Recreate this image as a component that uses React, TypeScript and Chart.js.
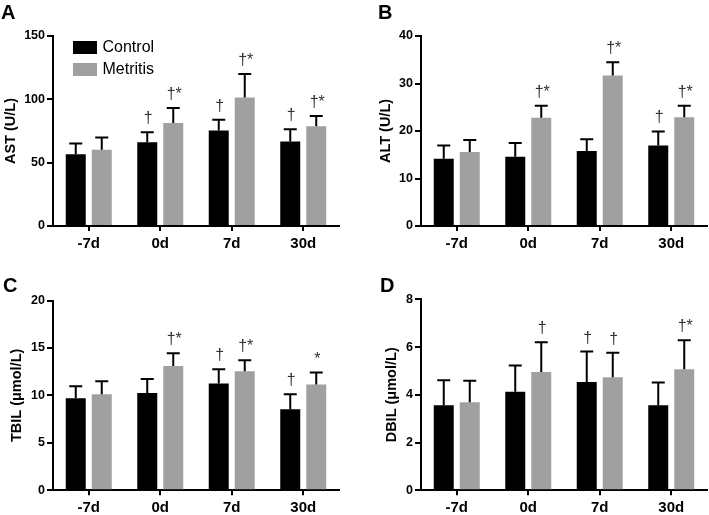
import React, { useEffect, useRef } from 'react';
import { Chart, registerables } from 'chart.js';

Chart.register(...registerables);

// ---------- data ----------
const categories = ['-7d', '0d', '7d', '30d'];
const seriesNames = ['Control', 'Metritis'];
const seriesColors = ['#000000', '#a0a0a0'];

const astControl = [56.7, 66.2, 75.4, 66.7];
const astControlSD = [8.4, 7.9, 8.4, 9.7];
const astMetritis = [60.2, 81.4, 101.4, 78.8];
const astMetritisSD = [9.7, 11.8, 18.6, 8.1];
const astControlMarks = ['', '†', '†', '†'];
const astMetritisMarks = ['', '†*', '†*', '†*'];
const astTicks = [0, 50, 100, 150];

const altControl = [14.15, 14.6, 15.8, 16.95];
const altControlSD = [2.8, 2.9, 2.45, 2.95];
const altMetritis = [15.6, 22.8, 31.7, 22.9];
const altMetritisSD = [2.5, 2.5, 2.8, 2.4];
const altControlMarks = ['', '', '', '†'];
const altMetritisMarks = ['', '†*', '†*', '†*'];
const altTicks = [0, 10, 20, 30, 40];

const tbilControl = [9.7, 10.26, 11.25, 8.54];
const tbilControlSD = [1.27, 1.48, 1.51, 1.58];
const tbilMetritis = [10.12, 13.11, 12.55, 11.14];
const tbilMetritisSD = [1.37, 1.34, 1.16, 1.27];
const tbilControlMarks = ['', '', '†', '†'];
const tbilMetritisMarks = ['', '†*', '†*', '*'];
const tbilTicks = [0, 5, 10, 15, 20];

const dbilControl = [3.56, 4.13, 4.54, 3.56];
const dbilControlSD = [1.05, 1.1, 1.27, 0.96];
const dbilMetritis = [3.69, 4.96, 4.73, 5.07];
const dbilMetritisSD = [0.9, 1.24, 1.03, 1.21];
const dbilControlMarks = ['', '', '†', ''];
const dbilMetritisMarks = ['', '†', '†', '†*'];
const dbilTicks = [0, 2, 4, 6, 8];

// ---------- layout ----------
type Panel = {
  letter: string; title: string; ticks: number[];
  ctrl: number[]; ctrlSD: number[]; ctrlMarks: string[];
  met: number[]; metSD: number[]; metMarks: string[];
  x: number; y: number; w: number; h: number;
  left: number; right: number; top: number; bottom: number;
  titleCenter: number; letterX: number; letterY: number; legend: boolean;
};

const panels: Panel[] = [
  { letter: 'A', title: 'AST (U/L)', ticks: astTicks, ctrl: astControl, ctrlSD: astControlSD, ctrlMarks: astControlMarks,
    met: astMetritis, metSD: astMetritisSD, metMarks: astMetritisMarks,
    x: 0, y: 0, w: 354, h: 257, left: 53, right: 339, top: 36, bottom: 226, titleCenter: 10.5, letterX: 1, letterY: 18.5, legend: true },
  { letter: 'B', title: 'ALT (U/L)', ticks: altTicks, ctrl: altControl, ctrlSD: altControlSD, ctrlMarks: altControlMarks,
    met: altMetritis, metSD: altMetritisSD, metMarks: altMetritisMarks,
    x: 354, y: 0, w: 355, h: 257, left: 67, right: 353, top: 36, bottom: 226, titleCenter: 31.8, letterX: 24, letterY: 18.5, legend: false },
  { letter: 'C', title: 'TBIL (μmol/L)', ticks: tbilTicks, ctrl: tbilControl, ctrlSD: tbilControlSD, ctrlMarks: tbilControlMarks,
    met: tbilMetritis, metSD: tbilMetritisSD, metMarks: tbilMetritisMarks,
    x: 0, y: 257, w: 354, h: 258, left: 53, right: 339, top: 43.5, bottom: 233.3, titleCenter: 17, letterX: 3, letterY: 34.5, legend: false },
  { letter: 'D', title: 'DBIL (μmol/L)', ticks: dbilTicks, ctrl: dbilControl, ctrlSD: dbilControlSD, ctrlMarks: dbilControlMarks,
    met: dbilMetritis, metSD: dbilMetritisSD, metMarks: dbilMetritisMarks,
    x: 354, y: 257, w: 355, h: 258, left: 67, right: 353, top: 42.3, bottom: 233.3, titleCenter: 38, letterX: 26, letterY: 34.5, legend: false },
];

const FONT = 'Liberation Sans';
const TITLE_SIZE = 14.5;

const decorPlugin = {
  id: 'decor',
  afterDatasetsDraw(chart: any, _args: any, opts: any) {
    const ctx = chart.ctx;
    const ys = chart.scales.y;
    chart.data.datasets.forEach((ds: any, di: number) => {
      const meta = chart.getDatasetMeta(di);
      meta.data.forEach((el: any, i: number) => {
        const v = ds.data[i];
        const base = ys.getPixelForValue(v);
        const top = ys.getPixelForValue(v + ds.sd[i]);
        ctx.save();
        ctx.strokeStyle = '#000';
        ctx.lineWidth = 2;
        ctx.beginPath();
        ctx.moveTo(el.x, base);
        ctx.lineTo(el.x, top);
        ctx.moveTo(el.x - 6.5, top);
        ctx.lineTo(el.x + 6.5, top);
        ctx.stroke();
        const m = ds.marks[i];
        if (m) {
          ctx.font = `16px "${FONT}", Arial, sans-serif`;
          ctx.fillStyle = '#333';
          ctx.textAlign = 'center';
          ctx.textBaseline = 'alphabetic';
          ctx.fillText(m, el.x + 1, top - 9);
        }
        ctx.restore();
      });
    });
    // panel letter
    ctx.save();
    ctx.font = `bold 20px "${FONT}"`;
    ctx.fillStyle = '#000';
    ctx.textAlign = 'left';
    ctx.textBaseline = 'alphabetic';
    ctx.fillText(opts.letter, opts.letterX, opts.letterY);
    ctx.restore();
    // legend
    if (opts.legend) {
      const ca = chart.chartArea;
      ctx.save();
      chart.data.datasets.forEach((ds: any, di: number) => {
        const bx = ca.left + 20;
        const by = ca.top + 5 + di * 22;
        ctx.fillStyle = ds.backgroundColor;
        ctx.fillRect(bx, by, 24, 13);
        ctx.fillStyle = '#000';
        ctx.font = `16px "${FONT}", Arial, sans-serif`;
        ctx.textAlign = 'left';
        ctx.textBaseline = 'middle';
        ctx.fillText(ds.label, bx + 29.5, by + 6.5);
      });
      ctx.restore();
    }
  },
};

function PanelChart({ p }: { p: Panel }) {
  const ref = useRef<HTMLCanvasElement | null>(null);
  useEffect(() => {
    if (!ref.current) return;
    const t = p.ticks;
    const chart = new Chart(ref.current, {
      type: 'bar',
      data: {
        labels: categories,
        datasets: [
          { label: seriesNames[0], data: p.ctrl, sd: p.ctrlSD, marks: p.ctrlMarks, backgroundColor: seriesColors[0],
            categoryPercentage: 0.7273, barPercentage: 0.769 } as any,
          { label: seriesNames[1], data: p.met, sd: p.metSD, marks: p.metMarks, backgroundColor: seriesColors[1],
            categoryPercentage: 0.7273, barPercentage: 0.769 } as any,
        ],
      },
      options: {
        responsive: false,
        animation: false,
        events: [],
        layout: { padding: { top: p.top, right: p.w - p.right, left: 0, bottom: 0 } },
        plugins: {
          legend: { display: false },
          tooltip: { enabled: false },
          decor: { letter: p.letter, letterX: p.letterX, letterY: p.letterY, legend: p.legend },
        } as any,
        scales: {
          x: {
            grid: { offset: false, drawOnChartArea: false, drawTicks: true, tickLength: 5, color: '#000', lineWidth: 2 },
            border: { display: true, color: '#000', width: 2 },
            ticks: { color: '#000', font: { family: FONT, weight: 'bold', size: 15 }, padding: 4, maxRotation: 0, autoSkip: false },
            afterFit: (s: any) => { s.height = p.h - p.bottom; },
          },
          y: {
            min: t[0],
            max: t[t.length - 1],
            ticks: { stepSize: t[1] - t[0], color: '#000', font: { family: FONT, weight: 'bold', size: 12.5 }, padding: 2 },
            grid: { drawOnChartArea: false, drawTicks: true, tickLength: 6, color: '#000', lineWidth: 2 },
            border: { display: true, color: '#000', width: 2 },
            title: { display: true, text: p.title, color: '#000', font: { family: FONT, weight: 'bold', size: TITLE_SIZE },
              padding: { top: p.titleCenter - TITLE_SIZE * 0.6, bottom: 0 } },
            afterFit: (s: any) => { s.width = p.left; },
          },
        } as any,
      },
      plugins: [decorPlugin],
    });
    return () => chart.destroy();
  }, [p]);
  return (
    <canvas
      ref={ref}
      width={p.w}
      height={p.h}
      style={{ position: 'absolute', left: p.x, top: p.y, width: p.w, height: p.h }}
    />
  );
}

export default function App() {
  return (
    <div style={{ position: 'fixed', left: 0, top: 0, width: 709, height: 515, background: '#fff', overflow: 'hidden' }}>
      {panels.map((p) => <PanelChart key={p.letter} p={p} />)}
    </div>
  );
}
